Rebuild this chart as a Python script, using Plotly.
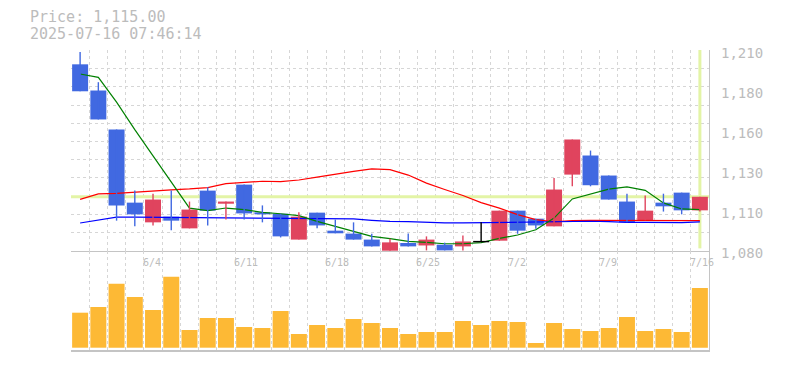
import plotly.graph_objects as go

# ---------------- data ----------------
dates = ["5/29", "5/30", "6/2", "6/3", "6/4", "6/5", "6/6", "6/9", "6/10", "6/11",
         "6/12", "6/13", "6/16", "6/17", "6/18", "6/19", "6/20", "6/23", "6/24", "6/25",
         "6/26", "6/27", "6/30", "7/1", "7/2", "7/3", "7/4", "7/7", "7/8", "7/9",
         "7/10", "7/11", "7/14", "7/15", "7/16"]

open_ = [1201.0, 1184.0, 1158.7, 1111.2, 1098.4, 1102.1, 1094.5, 1119.0, 1110.5, 1122.9,
         1104.9, 1104.0, 1087.2, 1104.7, 1093.0, 1091.1, 1087.2, 1080.0, 1085.0, 1083.4,
         1083.9, 1082.8, 1085.9, 1086.5, 1106.0, 1100.8, 1095.8, 1129.4, 1141.8, 1128.8,
         1111.9, 1099.8, 1111.2, 1117.7, 1106.2]
high = [1209.0, 1189.4, 1158.7, 1119.0, 1117.0, 1119.0, 1111.9, 1121.2, 1111.9, 1122.9,
        1109.4, 1104.0, 1104.9, 1104.7, 1100.2, 1098.4, 1091.0, 1087.8, 1091.1, 1089.3,
        1085.2, 1089.8, 1098.4, 1106.0, 1106.0, 1100.8, 1127.2, 1152.2, 1145.0, 1128.8,
        1117.0, 1115.9, 1117.0, 1117.7, 1115.0]
low = [1183.5, 1165.2, 1099.5, 1095.8, 1096.4, 1093.2, 1094.5, 1096.4, 1100.2, 1100.2,
       1098.4, 1088.6, 1087.2, 1094.5, 1091.3, 1087.2, 1082.8, 1080.0, 1082.8, 1080.2,
       1080.2, 1080.2, 1085.9, 1086.5, 1091.0, 1094.3, 1095.8, 1121.8, 1121.8, 1113.2,
       1098.4, 1099.8, 1105.4, 1103.6, 1105.4]
close = [1183.5, 1165.2, 1109.4, 1103.6, 1113.2, 1099.5, 1106.7, 1106.0, 1111.9, 1104.2,
         1103.6, 1089.3, 1102.1, 1096.4, 1091.3, 1087.2, 1082.8, 1085.4, 1082.8, 1087.2,
         1080.2, 1086.0, 1085.9, 1106.0, 1093.0, 1096.4, 1119.7, 1152.2, 1122.5, 1113.2,
         1098.4, 1106.0, 1108.8, 1106.2, 1115.0]

ma_short = [1194.7, 1192.5, 1176.5, 1158.6, 1141.6, 1124.6, 1107.6, 1106.0, 1107.7, 1106.6,
            1104.9, 1104.0, 1102.8, 1099.0, 1095.8, 1092.6, 1089.3, 1087.8, 1086.0, 1085.4,
            1084.5, 1084.5, 1085.3, 1088.0, 1090.2, 1093.6, 1101.2, 1113.6, 1117.0, 1120.0,
            1121.4, 1119.2, 1111.0, 1107.1, 1106.6]
ma_mid = [1113.3, 1116.9, 1117.2, 1118.1, 1118.8, 1119.5, 1120.1, 1121.0, 1123.5, 1124.4,
          1125.1, 1124.9, 1125.9, 1127.8, 1129.8, 1131.5, 1133.1, 1132.6, 1129.1, 1123.9,
          1119.7, 1115.8, 1111.2, 1107.6, 1103.4, 1100.2, 1098.8, 1099.6, 1099.7, 1099.7,
          1099.7, 1099.6, 1099.5, 1099.5, 1099.5]
ma_long = [1098.0, 1099.8, 1101.8, 1101.8, 1101.7, 1101.7, 1101.6, 1101.6, 1101.5, 1101.4,
           1101.4, 1101.3, 1101.3, 1101.0, 1100.8, 1100.6, 1099.7, 1099.0, 1098.9, 1098.4,
           1098.0, 1098.0, 1098.2, 1098.4, 1098.4, 1098.4, 1098.9, 1099.1, 1099.1, 1098.9,
           1098.4, 1098.4, 1098.2, 1098.2, 1098.7]

volume = [35.0, 40.7, 64.0, 50.7, 37.7, 71.0, 17.7, 29.7, 29.7, 20.7,
          19.7, 36.7, 13.7, 22.7, 19.7, 28.7, 24.7, 19.7, 13.7, 15.7,
          15.7, 26.7, 22.7, 26.7, 25.7, 4.7, 24.7, 18.7, 16.7, 19.7,
          30.7, 16.7, 18.7, 15.7, 59.7]

date_ticks = ["6/4", "6/11", "6/18", "6/25", "7/2", "7/9", "7/16"]
price_tick_vals = [1210, 1184, 1158, 1132, 1106, 1080]
price_tick_text = ["1,210", "1,180", "1,160", "1,130", "1,110", "1,080"]

price_text = "Price: 1,115.00"
stamp_text = "2025-07-16 07:46:14"

# ---------------- styles ----------------
UP = "#e0445e"
DOWN = "#4169e1"
FLAT = "#000000"
VOLC = "#fdb935"
GRID = "#d6d6d6"
AXL = "#c4c4c4"
TXT = "#bcbcbc"
HL = "#e3f4a6"
MONO = "DejaVu Sans Mono"

n = len(dates)
xs = list(range(n))
BW = 0.877

fig = go.Figure()

# moving averages (under candles)
fig.add_trace(go.Scatter(x=xs, y=ma_mid, mode="lines", line=dict(color="#ff0000", width=1.2),
                         xaxis="x", yaxis="y", hoverinfo="skip"))
fig.add_trace(go.Scatter(x=xs, y=ma_long, mode="lines", line=dict(color="#0000ff", width=1.2),
                         xaxis="x", yaxis="y", hoverinfo="skip"))
fig.add_trace(go.Scatter(x=xs, y=ma_short, mode="lines", line=dict(color="#008000", width=1.2),
                         xaxis="x", yaxis="y", hoverinfo="skip"))

# candles
groups = {"up": [], "down": [], "flat": []}
for i in xs:
    if close[i] > open_[i]:
        groups["up"].append(i)
    elif close[i] < open_[i]:
        groups["down"].append(i)
    else:
        groups["flat"].append(i)

for key, col in (("up", UP), ("down", DOWN)):
    idx = groups[key]
    wx, wy = [], []
    for i in idx:
        wx += [i, i, None]
        wy += [low[i], high[i], None]
    fig.add_trace(go.Scatter(x=wx, y=wy, mode="lines", line=dict(color=col, width=1.4),
                             xaxis="x", yaxis="y", hoverinfo="skip"))
    fig.add_trace(go.Bar(x=idx, y=[abs(close[i] - open_[i]) for i in idx],
                         base=[min(close[i], open_[i]) for i in idx],
                         width=BW, marker=dict(color=col, line=dict(width=0)),
                         xaxis="x", yaxis="y", hoverinfo="skip"))

fx, fy = [], []
for i in groups["flat"]:
    fx += [i, i, None, i - BW / 2, i + BW / 2, None]
    fy += [low[i], high[i], None, open_[i], open_[i], None]
fig.add_trace(go.Scatter(x=fx, y=fy, mode="lines", line=dict(color=FLAT, width=1.4),
                         xaxis="x", yaxis="y", hoverinfo="skip"))

# volume
fig.add_trace(go.Bar(x=xs, y=volume, width=BW, marker=dict(color=VOLC, line=dict(width=0)),
                     xaxis="x2", yaxis="y2", hoverinfo="skip"))

bounds = [i - 0.5 for i in range(n + 1)]
grid_y = [1080 + k * 130 / 11 for k in range(1, 12)]

common_x = dict(range=[-0.5, n - 0.5], tickmode="array", tickvals=bounds, showticklabels=False,
                showgrid=True, gridcolor=GRID, gridwidth=1, griddash="3px,3px",
                zeroline=False, ticks="", fixedrange=True)

# the page body has an 8px margin, so the figure is drawn 8px smaller
fig.update_layout(
    width=777, height=362,
    margin=dict(l=63, r=76, t=42, b=20),
    paper_bgcolor="white", plot_bgcolor="white",
    showlegend=False, barmode="overlay",
    xaxis=dict(domain=[0, 1], anchor="y", showline=True, linecolor=AXL, linewidth=1, **common_x),
    xaxis2=dict(domain=[0, 1], anchor="y2", matches="x", showline=True, linecolor=AXL, linewidth=2,
                **common_x),
    yaxis=dict(domain=[0.33, 1], range=[1079.8, 1210.3], side="right", tickmode="array",
               tickvals=grid_y, showticklabels=False, showgrid=True, gridcolor=GRID, gridwidth=1,
               griddash="3px,3px", zeroline=False, ticks="", showline=True, linecolor=AXL,
               linewidth=1),
    yaxis2=dict(domain=[0, 0.33], range=[-2.3, 96.7], side="right", showticklabels=False,
                showgrid=False, zeroline=False, ticks="", showline=True, linecolor=AXL,
                linewidth=1),
)

# current price / current date marker lines
fig.add_shape(type="line", xref="x", yref="y", x0=-0.5, x1=n - 0.5, y0=close[-1], y1=close[-1],
              line=dict(color=HL, width=3), layer="between")
fig.add_shape(type="line", xref="x", yref="y", x0=n - 1, x1=n - 1, y0=1081.5, y1=1210.3,
              line=dict(color=HL, width=3), layer="between")

# price labels
for v, t in zip(price_tick_vals, price_tick_text):
    fig.add_annotation(x=1, xref="paper", y=v, yref="y", text=t, showarrow=False,
                       xanchor="left", yanchor="middle", xshift=10, yshift=-2.3,
                       font=dict(family=MONO, size=14, color=TXT))

# date labels
for d in date_ticks:
    fig.add_annotation(x=dates.index(d), xref="x", y=(350 - 262) / 300, yref="paper", text=d,
                       showarrow=False, xanchor="left", yanchor="middle", xshift=-12,
                       font=dict(family=MONO, size=10, color=TXT))

# header texts
fig.add_annotation(x=0, xref="paper", y=1 + (50 - 17.5) / 300, yref="paper", text=price_text,
                   showarrow=False, xanchor="left", yanchor="middle", xshift=-43,
                   font=dict(family=MONO, size=15, color=TXT))
fig.add_annotation(x=0, xref="paper", y=1 + (50 - 33.5) / 300, yref="paper", text=stamp_text,
                   showarrow=False, xanchor="left", yanchor="middle", xshift=-43,
                   font=dict(family=MONO, size=15, color=TXT))

fig.write_html("out.html")
